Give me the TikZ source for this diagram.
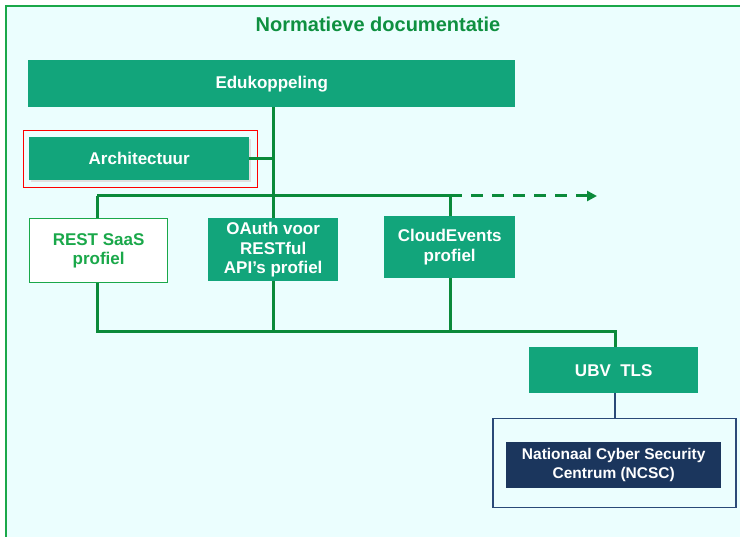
\documentclass[tikz,border=0pt]{standalone}
\usepackage{fontspec}
\setmainfont{Liberation Sans}
\usetikzlibrary{arrows.meta}
\definecolor{frameg}{HTML}{1AA84A}
\definecolor{bgc}{HTML}{EBFEFE}
\definecolor{boxg}{HTML}{12A57B}
\definecolor{lineg}{HTML}{0A8A3A}
\definecolor{titleg}{HTML}{0E9040}
\definecolor{navy}{HTML}{1B365D}
\definecolor{navyl}{HTML}{2A4A78}
\tikzset{
  gbox/.style={draw=none, fill=boxg, text=white, font=\bfseries\fontsize{17}{19.5}\selectfont, align=center, inner sep=0pt, anchor=north west},
  wbox/.style={draw=frameg, line width=1.2pt, fill=white, text=frameg, font=\bfseries\fontsize{17}{19.5}\selectfont, align=center, inner sep=0pt, anchor=north west},
  conn/.style={draw=lineg, line width=3pt},
  nconn/.style={draw=navyl, line width=2pt},
}
\begin{document}
\begin{tikzpicture}[x=1pt,y=-1pt]
\useasboundingbox (0,0) rectangle (740,537);
\fill[white] (0,0) rectangle (740,537);
\filldraw[fill=bgc, draw=frameg, line width=1.5pt] (6,6) rectangle (750,547);
\node[text=titleg, font=\bfseries\fontsize{20}{24}\selectfont] (title) at (378,24) {Normatieve documentatie};
% boxes
\node[gbox, minimum width=487pt, minimum height=47pt] (edu) at (28,60) {Edukoppeling};
\node[draw=red, line width=1.4pt, minimum width=234pt, minimum height=57pt, inner sep=0pt, anchor=north west] (redf) at (23,130) {};
\fill[black!12] (31,139) rectangle (251,182);
\node[gbox, minimum width=220pt, minimum height=43pt] (arch) at (29,137) {Architectuur};
\node[wbox, minimum width=138pt, minimum height=64pt] (rest) at (29,218) {REST SaaS\\profiel};
\node[gbox, minimum width=130pt, minimum height=63pt] (oauth) at (208,218) {OAuth voor\\RESTful\\API’s profiel};
\node[gbox, minimum width=131pt, minimum height=62pt] (cloud) at (384,216) {CloudEvents\\profiel};
\node[gbox, minimum width=169pt, minimum height=46pt] (ubv) at (529,347) {UBV\ \ TLS};
\node[draw=navyl, line width=1.5pt, fill=bgc, minimum width=243pt, minimum height=89pt, inner sep=0pt, anchor=north west] (ncscf) at (492,418) {};
\node[fill=navy, text=white, font=\bfseries\fontsize{15.5}{18.5}\selectfont, align=center, inner sep=0pt, minimum width=215pt, minimum height=46pt, anchor=north west] (ncsc) at (506,442) {Nationaal Cyber Security\\Centrum (NCSC)};
% coordinates
\coordinate (jt) at (273,196);
\coordinate (jl) at (97,196);
\coordinate (jc) at (450,196);
\coordinate (arr) at (597,196);
\coordinate (bl) at (97,332);
\coordinate (bm) at (273,332);
\coordinate (bc) at (450,332);
\coordinate (br) at (615,332);
% connectors
\draw[conn] (edu.south -| jt) -- (oauth.north -| jt);
\draw[conn] (arch.east) -- (arch.east -| jt);
\draw[conn] (jl) -- (jc);
\draw[conn] (jl) -- (rest.north -| jl);
\draw[conn] (jc) -- (cloud.north -| jc);
\draw[conn, dashed, dash pattern=on 12pt off 9pt, -{Triangle[length=10pt,width=10pt]}] (jc) -- (arr);
\draw[conn] (rest.south -| bl) -- (bl) -- (br) -- (ubv.north -| br);
\draw[conn] (oauth.south -| bm) -- (bm);
\draw[conn] (cloud.south -| bc) -- (bc);
\draw[nconn] (ubv.south -| br) -- (ncscf.north -| br);
\end{tikzpicture}
\end{document}
